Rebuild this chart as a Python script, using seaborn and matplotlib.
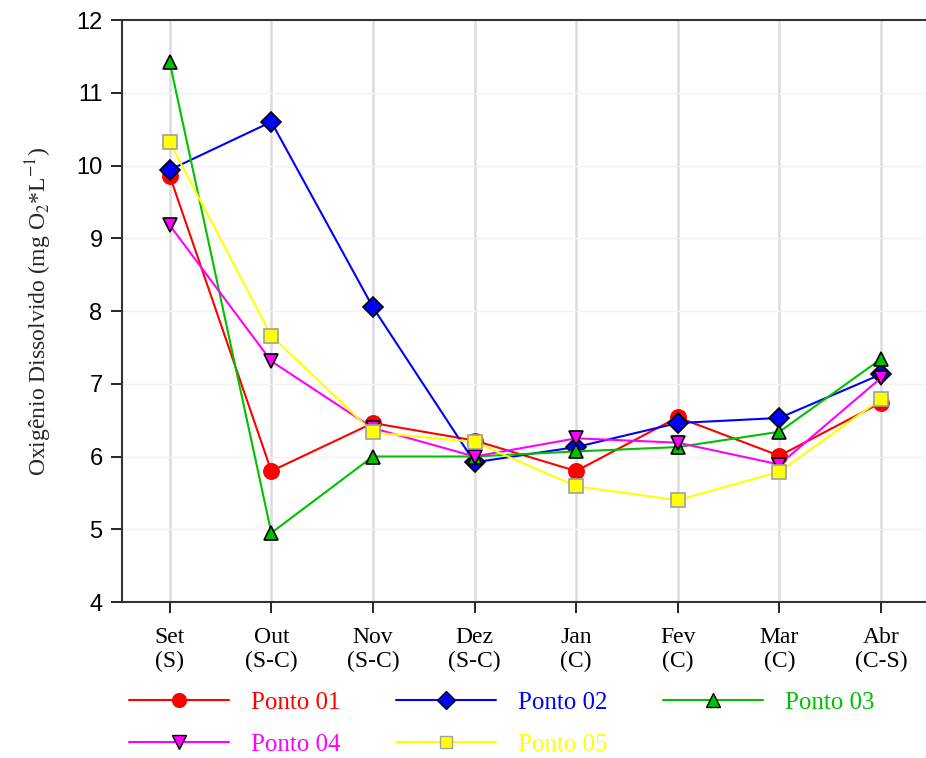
import pandas as pd
import seaborn as sns
import matplotlib.pyplot as plt
from matplotlib.lines import Line2D

# Dados (leitura aproximada do grafico)
meses = ["Set\n(S)", "Out\n(S-C)", "Nov\n(S-C)", "Dez\n(S-C)",
         "Jan\n(C)", "Fev\n(C)", "Mar\n(C)", "Abr\n(C-S)"]
ponto_01 = [9.86, 5.80, 6.46, 6.22, 5.80, 6.54, 6.01, 6.74]
ponto_02 = [9.94, 10.60, 8.05, 5.92, 6.13, 6.46, 6.53, 7.13]
ponto_03 = [11.42, 4.95, 6.00, 6.00, 6.07, 6.13, 6.34, 7.34]
ponto_04 = [9.18, 7.31, 6.39, 6.00, 6.25, 6.19, 5.89, 7.08]
ponto_05 = [10.32, 7.66, 6.33, 6.20, 5.59, 5.40, 5.79, 6.79]

series = {"Ponto 01": ponto_01, "Ponto 02": ponto_02, "Ponto 03": ponto_03,
          "Ponto 04": ponto_04, "Ponto 05": ponto_05}
estilos = {
    "Ponto 01": dict(color="#ff0000", marker="o", mec="#ff0000", ms=11),
    "Ponto 02": dict(color="#0000ff", marker="D", mec="black", ms=10),
    "Ponto 03": dict(color="#00c000", marker="^", mec="black", ms=10.5),
    "Ponto 04": dict(color="#ff00ff", marker="v", mec="black", ms=10.5),
    "Ponto 05": dict(color="#ffff00", marker="s", mec="#a0a0a0", ms=10),
}

df = pd.DataFrame(series, index=meses).reset_index(names="Mes")
df = df.melt(id_vars="Mes", var_name="Ponto", value_name="OD")

sns.set_theme(style="white")
plt.rcParams["font.family"] = ["Liberation Serif", "DejaVu Serif"]
plt.rcParams["mathtext.fontset"] = "stix"

fig = plt.figure(figsize=(9.26, 7.58), dpi=100)
ax = fig.add_axes([0.1317, 0.2058, 0.868, 0.7678])

for nome, st in estilos.items():
    sub = df[df["Ponto"] == nome]
    sns.lineplot(data=sub, x="Mes", y="OD", ax=ax, color=st["color"],
                 marker=st["marker"], markersize=st["ms"],
                 markeredgecolor=st["mec"], markeredgewidth=1.2,
                 linewidth=1.5, sort=False, legend=False, zorder=3)

ax.set_ylim(4, 12)
ax.set_xlim(-0.47, 7.44)
ax.set_yticks(range(4, 13))
ax.set_xticks(range(len(meses)))
ax.set_xticklabels(meses, fontsize=17, linespacing=1.2)
for lab in ax.get_yticklabels():
    lab.set_family(["Liberation Sans", "DejaVu Sans"])
    lab.set_fontsize(17)
ax.tick_params(axis="both", direction="out", length=8, width=1.2,
               colors="black", left=True, bottom=True)
ax.tick_params(axis="x", pad=10)
ax.tick_params(axis="y", pad=6)

ax.set_xlabel("")
ax.set_ylabel(r"Oxigênio Dissolvido (mg O$_2$*L$^{-1}$)", fontsize=17, labelpad=16)

for x in range(len(meses)):
    ax.axvline(x, color="#dcdcdc", lw=1.8, zorder=0)
for y in range(5, 12):
    ax.axhline(y, color="#f2f2f2", lw=1, zorder=0)

for s in ["left", "bottom", "top"]:
    ax.spines[s].set_color("#333333")
    ax.spines[s].set_linewidth(1.5)
ax.spines["right"].set_visible(False)

handles = []
for nome, st in estilos.items():
    handles.append(Line2D([], [], color=st["color"], marker=st["marker"],
                          markersize=st["ms"] * 0.9, markeredgecolor=st["mec"],
                          markeredgewidth=1.0, linewidth=1.5, label=nome))
ordem = [0, 3, 1, 4, 2]
leg = fig.legend([handles[i] for i in ordem], [handles[i].get_label() for i in ordem],
                 ncol=3, loc="upper left", bbox_to_anchor=(0.115, 0.118),
                 frameon=False, fontsize=18, handlelength=4.0,
                 handletextpad=0.9, columnspacing=2.2, labelspacing=0.8)
for txt, i in zip(leg.get_texts(), ordem):
    txt.set_color(estilos[handles[i].get_label()]["color"])

fig.savefig("out.png", dpi=100)
